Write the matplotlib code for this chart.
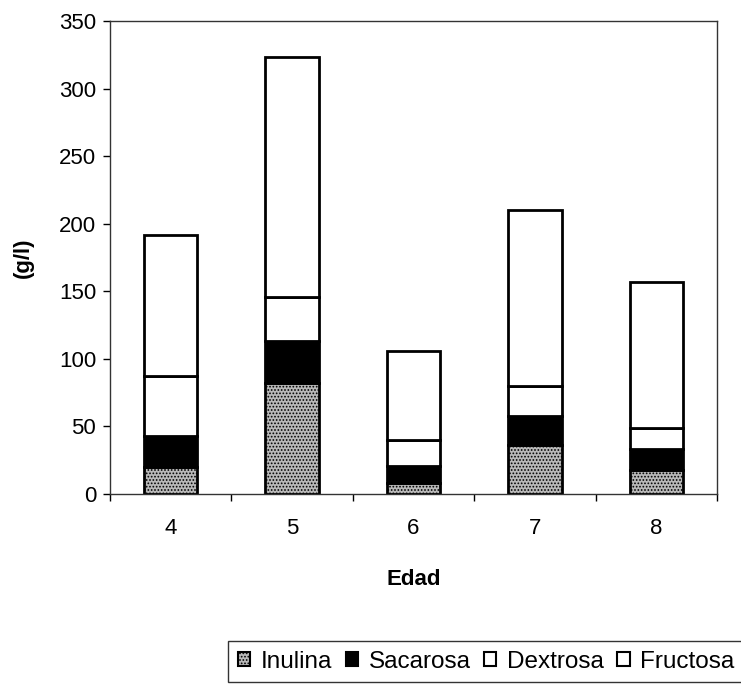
import matplotlib.pyplot as plt
import numpy as np

edad = ['4', '5', '6', '7', '8']
inulina = [20, 82, 8, 36, 18]
sacarosa = [23, 31, 13, 22, 15]
dextrosa = [44, 33, 19, 22, 16]
fructosa = [105, 177, 66, 130, 108]

plt.rcParams['font.family'] = ['Liberation Sans', 'DejaVu Sans']
plt.rcParams['hatch.color'] = '#444444'
plt.rcParams['hatch.linewidth'] = 0.8

fig = plt.figure(figsize=(7.41, 6.89), dpi=100)
ax = fig.add_axes([110/741, 1-494/689, (717-110)/741, (494-21)/689])

x = np.arange(len(edad))
w = 0.44
series = [
    ('Inulina', inulina, dict(facecolor='#b8b8b8', hatch='.....')),
    ('Sacarosa', sacarosa, dict(facecolor='black')),
    ('Dextrosa', dextrosa, dict(facecolor='white')),
    ('Fructosa', fructosa, dict(facecolor='white')),
]
bottom = np.zeros(len(edad))
for name, vals, style in series:
    ax.bar(x, vals, w, bottom=bottom, edgecolor='black', linewidth=2,
           label=name, **style)
    bottom += np.array(vals)

ax.set_ylim(0, 350)
ax.set_yticks(range(0, 351, 50))
ax.set_xlim(-0.5, len(edad) - 0.5)
ax.set_xticks(np.arange(-0.5, len(edad), 1.0))
ax.set_xticklabels([])
ax.set_xticks(x, minor=True)
ax.set_xticklabels(edad, minor=True)
ax.tick_params(axis='x', which='minor', length=0, pad=17, labelsize=16)
ax.tick_params(axis='x', which='major', length=5, width=1)
ax.tick_params(axis='y', length=5, width=1, labelsize=16, pad=5)
for s in ax.spines.values():
    s.set_linewidth(1)
    s.set_color('#333333')

ax.set_ylabel('(g/l)', fontsize=16, fontweight='bold', labelpad=18)
ax.set_xlabel('Edad', fontsize=16, fontweight='bold', labelpad=22)

leg = fig.legend(loc='upper left', bbox_to_anchor=(228/741, 1-641/689), ncol=4,
                 prop={'size': 17.5},
                 handlelength=0.5, handleheight=0.5, handletextpad=0.45,
                 columnspacing=0.55, borderpad=0.4, fancybox=False,
                 frameon=True, borderaxespad=0)
leg.get_frame().set_edgecolor('black')
leg.get_frame().set_linewidth(1)
for h in leg.legend_handles:
    h.set_linewidth(1.5)

fig.savefig('out.png', dpi=100, facecolor='white')
